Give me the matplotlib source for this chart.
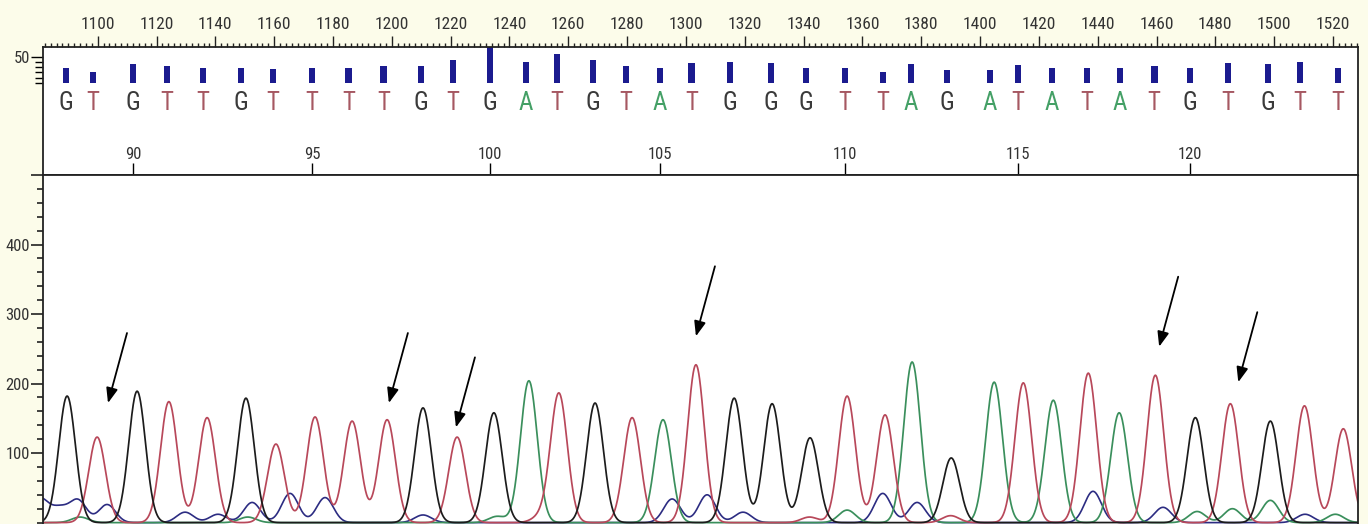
import numpy as np
import matplotlib
matplotlib.use("Agg")
import matplotlib.pyplot as plt
from matplotlib.ticker import MultipleLocator, FixedLocator

plt.rcParams['font.family'] = ['Roboto Condensed', 'Liberation Sans Narrow', 'Liberation Sans', 'DejaVu Sans']

# --- base calls 88..124, position on the scan ruler, quality bars
FIRST_BASE = 88
BASES = list("GTGTTGTTTTGTGATGTATGGGTTAGATATATGTGTT")
CALL_SCAN = [1089.2, 1098.4, 1112.0, 1123.6, 1135.8, 1148.7, 1159.6, 1172.9, 1185.4, 1197.3,
             1209.9, 1220.8, 1233.4, 1245.6, 1256.2, 1268.4, 1279.6, 1291.2, 1302.0, 1315.0,
             1328.9, 1340.8, 1354.1, 1367.0, 1376.5, 1388.8, 1403.4, 1412.9, 1424.5, 1436.4,
             1447.6, 1459.2, 1471.4, 1484.3, 1497.9, 1508.8, 1521.7]
QUALITY = [29, 21, 37, 33, 29, 29, 27, 29, 29, 33, 33, 44, 75, 40, 56, 44, 33, 29, 38, 40,
           38, 29, 29, 21, 37, 25, 25, 35, 29, 29, 29, 33, 29, 38, 37, 40, 29]
BASE_TICKS = [90, 95, 100, 105, 110, 115, 120]

# --- main peaks (one per call)
PEAK_SCAN = [1089.6, 1099.8, 1113.4, 1124.2, 1137.2, 1150.4, 1160.6, 1173.9, 1186.5, 1198.4,
             1210.6, 1222.2, 1234.7, 1246.6, 1256.8, 1269.1, 1281.7, 1292.2, 1303.4, 1316.4,
             1329.3, 1342.2, 1354.8, 1367.7, 1376.9, 1390.2, 1404.8, 1414.7, 1424.9, 1436.8,
             1447.3, 1459.6, 1473.2, 1485.1, 1498.7, 1510.3, 1523.5]
PEAK_HEIGHT = [182, 123, 189, 174, 151, 179, 113, 152, 146, 148,
               165, 123, 158, 204, 186, 172, 151, 148, 227, 179,
               171, 122, 182, 155, 231, 93, 202, 201, 176, 215,
               158, 212, 151, 171, 146, 168, 135]

# --- weak background signal
NOISE_C_SCAN = [1080.4, 1087.0, 1093.3, 1103.2, 1129.7, 1140.9, 1152.5, 1165.4, 1177.3, 1210.6,
                1295.3, 1307.2, 1319.4, 1366.9, 1378.6, 1438.4, 1462.2, 1510.5]
NOISE_C_HEIGHT = [34, 20, 32, 26, 15, 12, 29, 42, 36, 11, 34, 40, 15, 42, 29, 45, 22, 12]
NOISE_A_SCAN = [1094.0, 1151.0, 1235.8, 1354.8, 1473.8, 1485.8, 1498.7, 1520.8]
NOISE_A_HEIGHT = [8, 8, 9, 18, 16, 20, 32, 12]
NOISE_T_SCAN = [1250.4, 1342.0, 1390.0]
NOISE_T_HEIGHT = [8, 8, 10]

# --- arrows marking peaks
ARROW_X = [1103.5, 1199.0, 1221.8, 1303.4, 1460.9, 1487.8]
ARROW_Y = [172, 172, 137, 268, 253, 202]

TRACE_COLORS = {'G': '#1c1c1c', 'T': '#b8485a', 'A': '#3a8f5c', 'C': '#2c2c82'}
LETTER_COLORS = {'G': '#3a3a3a', 'T': '#a65862', 'A': '#44a066', 'C': '#2c2c82'}

XMIN, XMAX = 1081.4, 1528.5
SIGMA = 2.85


def trace(x, pos, h):
    y = np.zeros_like(x)
    for p, v in zip(pos, h):
        y += v * np.exp(-(x - p) ** 2 / (2 * SIGMA ** 2))
    return y


fig = plt.figure(figsize=(13.68, 5.24), dpi=100, facecolor='#fcfcea')

# ---------------- base call panel with scan ruler
ax_top = fig.add_axes([0.03143, 0.66603, 0.96126, 0.24427])
ax_top.set_facecolor('white')
ax_top.set_xlim(XMIN, XMAX)
ax_top.set_ylim(-175, 68.4)

ax_top.bar(CALL_SCAN, QUALITY, width=2.3, bottom=0, color='#1b1b8f', zorder=2)
for x, b in zip(CALL_SCAN, BASES):
    ax_top.text(x, -38, b, color=LETTER_COLORS[b], fontsize=18,
                ha='center', va='center')

ax_top.xaxis.set_major_locator(MultipleLocator(20))
ax_top.xaxis.set_minor_locator(MultipleLocator(2))
ax_top.tick_params(axis='x', which='both', top=True, bottom=False,
                   labeltop=True, labelbottom=False, direction='out',
                   width=1, color='#222222')
ax_top.tick_params(axis='x', which='major', length=8, labelsize=12.5, pad=2.5,
                   labelcolor='#333333')
ax_top.tick_params(axis='x', which='minor', length=3)

ax_top.yaxis.set_major_locator(FixedLocator([50]))
ax_top.yaxis.set_minor_locator(FixedLocator([0, 10, 20, 30, 40]))
ax_top.tick_params(axis='y', which='major', length=8.5, width=1, labelsize=12, pad=1,
                   labelcolor='#333333')
ax_top.tick_params(axis='y', which='minor', length=5.5, width=1)

sec = ax_top.secondary_xaxis('bottom')
sec.set_xticks([CALL_SCAN[b - FIRST_BASE] for b in BASE_TICKS],
               labels=[str(b) for b in BASE_TICKS])
sec.tick_params(direction='in', length=9, width=1, labelsize=12, pad=-20,
                labelcolor='#333333')

for sp in ax_top.spines.values():
    sp.set_linewidth(1.3)
    sp.set_color('#222222')

# ---------------- trace panel
ax_bot = fig.add_axes([0.03143, 0.0, 0.96126, 0.66603])
ax_bot.set_facecolor('white')
ax_bot.set_xlim(XMIN, XMAX)
ax_bot.set_ylim(-2, 500)

x = np.linspace(XMIN, XMAX, 5000)
ax_bot.plot(x, trace(x, NOISE_C_SCAN, NOISE_C_HEIGHT), color=TRACE_COLORS['C'], lw=1.2)
for base in ['A', 'T', 'G']:
    pos = [p for p, b in zip(PEAK_SCAN, BASES) if b == base]
    h = [v for v, b in zip(PEAK_HEIGHT, BASES) if b == base]
    if base == 'A':
        pos += NOISE_A_SCAN
        h += NOISE_A_HEIGHT
    if base == 'T':
        pos += NOISE_T_SCAN
        h += NOISE_T_HEIGHT
    ax_bot.plot(x, trace(x, pos, h), color=TRACE_COLORS[base], lw=1.25)

for ax_x, ax_y in zip(ARROW_X, ARROW_Y):
    ax_bot.annotate('', xy=(ax_x, ax_y), xytext=(19, 70), textcoords='offset pixels',
                    arrowprops=dict(arrowstyle='-|>,head_length=0.9,head_width=0.35',
                                    color='black', lw=1.3, shrinkA=0, shrinkB=0))

ax_bot.set_xticks([])
ax_bot.set_yticks([100, 200, 300, 400, 500], labels=['100', '200', '300', '400', ''])
ax_bot.yaxis.set_minor_locator(MultipleLocator(20))
ax_bot.tick_params(axis='y', which='major', length=8.5, width=1.2, labelsize=12, pad=1,
                   color='#222222', labelcolor='#333333')
ax_bot.tick_params(axis='y', which='minor', length=4.5, width=1.2, color='#222222')
ax_bot.spines['bottom'].set_visible(False)
for sp in ['left', 'right', 'top']:
    ax_bot.spines[sp].set_linewidth(1.3)
    ax_bot.spines[sp].set_color('#222222')

fig.savefig('out.png', dpi=100, facecolor=fig.get_facecolor())
